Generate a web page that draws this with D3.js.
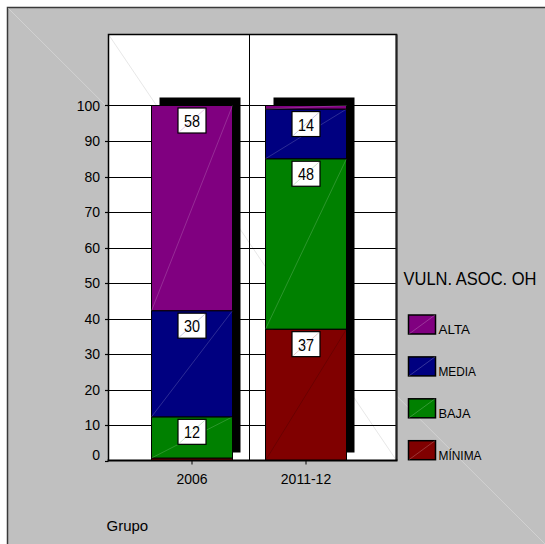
<!DOCTYPE html>
<html>
<head>
<meta charset="utf-8">
<script src="https://cdn.jsdelivr.net/npm/d3@7/dist/d3.min.js"></script>
<style>
  html, body { margin: 0; padding: 0; background: #fff; }
  svg { display: block; }
  text { font-family: "Liberation Sans", Arial, sans-serif; fill: #000; }
</style>
</head>
<body>
<svg id="chart" width="545" height="544"></svg>
<script>
// ---- data ----
const categories = ["2006", "2011-12"];
const seriesNames = ["MÍNIMA", "BAJA", "MEDIA", "ALTA"];
const seriesColors = ["#800000", "#008000", "#000080", "#800080"];
const minima = [0.7, 37.0];
const baja = [11.6, 48.0];
const media = [29.9, 14.0];
const alta = [57.8, 1.0];
const yTicks = [0, 10, 20, 30, 40, 50, 60, 70, 80, 90, 100];
const legendTitle = "VULN. ASOC. OH";
const xTitle = "Grupo";

const seriesValues = [minima, baja, media, alta];
const table = categories.map((c, i) => {
  const row = { cat: c };
  seriesNames.forEach((s, j) => row[s] = seriesValues[j][i]);
  return row;
});

// ---- layout ----
const svg = d3.select("#chart");
const plotL = 108.5, plotR = 396.5, plotT = 34.5, plotB = 460.5;
const barW = 81, shadowDx = 8, shadowDy = -8;

const y = d3.scaleLinear().domain([0, 120]).range([plotB, plotT]);
const x = d3.scalePoint().domain(categories).range([plotL + 83.5, plotR - 90.5]);

// outer background frame
svg.append("rect").attr("x", 7.5).attr("y", 7.5).attr("width", 600).attr("height", 600)
  .attr("fill", "#c0c0c0").attr("stroke", "#3a3a3a").attr("stroke-width", 1.5);
svg.append("line").attr("x1", 8).attr("y1", 8).attr("x2", 545).attr("y2", 544)
  .attr("stroke", "#fff").attr("stroke-opacity", 0.4).attr("stroke-width", 0.7);

// plot area
svg.append("rect").attr("x", plotL).attr("y", plotT)
  .attr("width", plotR - plotL).attr("height", plotB - plotT).attr("fill", "#fff");
svg.append("line").attr("x1", plotL).attr("y1", plotT).attr("x2", plotR).attr("y2", plotB)
  .attr("stroke", "#ddd").attr("stroke-width", 0.7);

// gridlines
svg.append("g").selectAll("line").data(yTicks.filter(d => d > 0)).join("line")
  .attr("x1", plotL).attr("x2", plotR)
  .attr("y1", d => Math.round(y(d)) + 0.5).attr("y2", d => Math.round(y(d)) + 0.5)
  .attr("stroke", "#000").attr("stroke-width", 1);

// category divider
const mid = (x(categories[0]) + x(categories[1])) / 2;
svg.append("line").attr("x1", Math.round(mid) + 0.5).attr("x2", Math.round(mid) + 0.5)
  .attr("y1", plotT).attr("y2", plotB).attr("stroke", "#000").attr("stroke-width", 1);

// plot border top/left/right
svg.append("path")
  .attr("d", `M${plotL},${plotB}V${plotT}H${plotR}V${plotB}`)
  .attr("fill", "none").attr("stroke", "#000").attr("stroke-width", 1.5);
svg.append("line").attr("x1", plotR).attr("x2", plotR).attr("y1", plotT).attr("y2", plotB)
  .attr("stroke", "#222").attr("stroke-width", 2);

// stacks
const stack = d3.stack().keys(seriesNames)(table);

// shadows
svg.append("g").selectAll("rect").data(categories).join("rect")
  .attr("x", c => x(c) - barW / 2 + shadowDx)
  .attr("y", y(100) + shadowDy)
  .attr("width", barW)
  .attr("height", y(0) - y(100))
  .attr("fill", "#000");

// bars
const segG = svg.append("g");
stack.forEach((layer, j) => {
  layer.forEach((d, i) => {
    const c = categories[i];
    const x0 = x(c) - barW / 2, x1 = x0 + barW;
    const yTop = y(d[1]), yBot = y(d[0]);
    segG.append("rect")
      .attr("x", x0).attr("y", yTop).attr("width", barW).attr("height", yBot - yTop)
      .attr("fill", seriesColors[j]).attr("stroke", "#000").attr("stroke-width", 1);
    if (yBot - yTop > 3) {
      segG.append("line").attr("x1", x0).attr("y1", yBot).attr("x2", x1).attr("y2", yTop)
        .attr("stroke", j === 0 ? "#000" : "#fff").attr("stroke-opacity", 0.25).attr("stroke-width", 0.7);
    }
  });
});

// value labels
const labG = svg.append("g");
stack.forEach((layer, j) => {
  layer.forEach((d, i) => {
    const v = d[1] - d[0];
    if (v < 5) return;
    const c = categories[i];
    const bw = 28, bh = 25;
    const bx = x(c) - bw / 2, by = y(d[1]) + 2.5;
    labG.append("rect").attr("x", bx).attr("y", by).attr("width", bw).attr("height", bh)
      .attr("fill", "#fff").attr("stroke", "#000").attr("stroke-width", 1.2);
    labG.append("line").attr("x1", bx).attr("y1", by + bh).attr("x2", bx + bw).attr("y2", by)
      .attr("stroke", seriesColors[j]).attr("stroke-opacity", 0.3).attr("stroke-width", 0.7);
    labG.append("text").attr("x", x(c)).attr("y", by + 19)
      .attr("text-anchor", "middle").attr("font-size", 16)
      .attr("textLength", 16).attr("lengthAdjust", "spacingAndGlyphs")
      .text(Math.round(v));
  });
});

// y axis
const yAxis = svg.append("g");
yAxis.selectAll("line").data(yTicks).join("line")
  .attr("x1", plotL - 3.5).attr("x2", plotL)
  .attr("y1", d => Math.round(y(d)) + 0.5).attr("y2", d => Math.round(y(d)) + 0.5)
  .attr("stroke", "#000").attr("stroke-width", 1.2);
yAxis.selectAll("text").data(yTicks).join("text")
  .attr("x", 100).attr("y", d => y(d) + (d === 0 ? -0.5 : 5))
  .attr("text-anchor", "end").attr("font-size", 14)
  .text(d => d);

// x axis
svg.append("line").attr("x1", plotL - 1).attr("x2", plotR + 1).attr("y1", plotB).attr("y2", plotB)
  .attr("stroke", "#000").attr("stroke-width", 2);
svg.append("g").selectAll("line").data(categories).join("line")
  .attr("x1", c => x(c)).attr("x2", c => x(c)).attr("y1", plotB).attr("y2", plotB + 4)
  .attr("stroke", "#000").attr("stroke-width", 1);
svg.append("g").selectAll("text").data(categories).join("text")
  .attr("x", c => x(c)).attr("y", 483.5).attr("text-anchor", "middle").attr("font-size", 14)
  .text(c => c);

svg.append("text").attr("x", 106.5).attr("y", 531).attr("font-size", 15).text(xTitle);

// legend
svg.append("text")
  .attr("transform", "translate(403.5,284.5) scale(1,1.16)")
  .attr("font-size", 16.4)
  .attr("textLength", 133).attr("lengthAdjust", "spacingAndGlyphs").text(legendTitle);

const legendOrder = [3, 2, 1, 0];
const legendWidths = { "ALTA": 31.5, "MEDIA": 37.5, "BAJA": 32, "MÍNIMA": 43 };
const legG = svg.append("g");
legendOrder.forEach((j, k) => {
  const top = 315 + k * 41.9;
  legG.append("rect").attr("x", 408.5).attr("y", top).attr("width", 27).attr("height", 19)
    .attr("fill", seriesColors[j]).attr("stroke", "#000").attr("stroke-width", 1.5);
  legG.append("line").attr("x1", 409).attr("y1", top + 19).attr("x2", 435).attr("y2", top)
    .attr("stroke", "#fff").attr("stroke-opacity", 0.3).attr("stroke-width", 0.7);
  legG.append("text").attr("x", 438.5).attr("y", top + 19.3).attr("font-size", 13)
    .attr("textLength", legendWidths[seriesNames[j]]).attr("lengthAdjust", "spacingAndGlyphs")
    .text(seriesNames[j]);
});
</script>
</body>
</html>
